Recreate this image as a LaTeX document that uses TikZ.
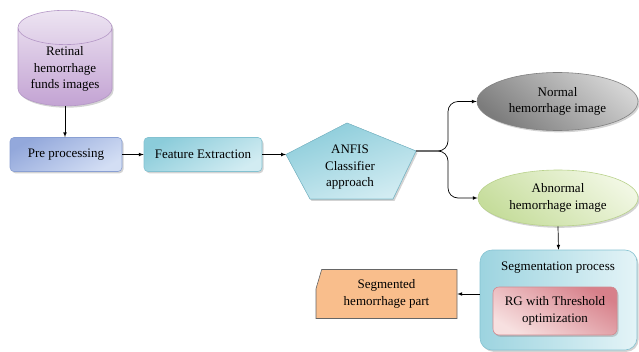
\documentclass[tikz,border=0pt]{standalone}
\usepackage{fontspec}
\setmainfont{Liberation Serif}
\usetikzlibrary{shapes.geometric,shapes.misc,shadows,positioning}

\definecolor{cylTop}{HTML}{EDE4F2}
\definecolor{cylBot}{HTML}{C3A3D3}
\definecolor{cylEdge}{HTML}{B497C6}
\definecolor{preA}{HTML}{93A8DB}
\definecolor{preB}{HTML}{D3DEF4}
\definecolor{preEdge}{HTML}{8AA0D3}
\definecolor{featA}{HTML}{8BCCDA}
\definecolor{featB}{HTML}{D2ECF2}
\definecolor{featEdge}{HTML}{84C2D1}
\definecolor{grayA}{HTML}{7C7C7C}
\definecolor{grayB}{HTML}{D4D4D4}
\definecolor{greenA}{HTML}{C6DD9C}
\definecolor{greenB}{HTML}{F1F7E3}
\definecolor{greenEdge}{HTML}{B9D28C}
\definecolor{redA}{HTML}{D7808A}
\definecolor{redB}{HTML}{F7E0E0}
\definecolor{redEdge}{HTML}{D08A90}
\definecolor{orangeFill}{HTML}{F9BE8C}

\tikzset{
  base/.style={align=center, font=\fontsize{13}{16.5}\selectfont, inner sep=2pt},
  softshadow/.style={drop shadow={shadow xshift=1.5pt, shadow yshift=-1.8pt, opacity=0.35}},
  procbox/.style={base, rectangle, rounded corners=4pt, softshadow, line width=0.6pt},
  imgellipse/.style={base, ellipse, softshadow, line width=0.6pt},
  link/.style={-latex, line width=0.7pt},
}

\begin{document}
\begin{tikzpicture}[x=1pt, y=-1pt]
\useasboundingbox (0,0) rectangle (639,351);
% input images
\node (cyl) [base, cylinder, shape border rotate=90, aspect=0.47, minimum width=94pt, minimum height=95pt,
  top color=cylTop, bottom color=cylBot, draw=cylEdge, line width=0.6pt, softshadow, anchor=north]
  at (65,10) {Retinal\\hemorrhage\\funds images};
\node (pre) [procbox, minimum width=112pt, minimum height=34pt, top color=preA, bottom color=preB,
  shading angle=30, draw=preEdge] at (66,154.5) {Pre processing};
\node (feat) [procbox, minimum width=118pt, minimum height=34pt, top color=featA, bottom color=featB,
  shading angle=30, draw=featEdge] at (203,154.5) {Feature Extraction};
% classifier pentagon
\coordinate (anfis-n) at (347,123);
\coordinate (anfis-w) at (286,154.5);
\coordinate (anfis-e) at (416,151);
\coordinate (anfis-sw) at (310,199);
\coordinate (anfis-se) at (393,199);
\coordinate (fork) at (448,151);
\filldraw [top color=featA, bottom color=featB, shading angle=20, draw=featEdge, line width=0.6pt, softshadow]
  (anfis-n) -- (anfis-e) -- (anfis-se) -- (anfis-sw) -- (anfis-w) -- cycle;
\node (anfis) [base] at (350,167.5) {ANFIS\\Classifier\\approach};
% outcomes
\node (normal) [imgellipse, minimum width=161pt, minimum height=58pt, top color=grayB, bottom color=grayA,
  shading angle=-40, draw=gray] at (557.5,101.5) {Normal\\hemorrhage image};
\node (abnormal) [imgellipse, minimum width=160pt, minimum height=56pt, top color=greenB, bottom color=greenA,
  shading angle=-40, draw=greenEdge] at (558,198) {Abnormal\\hemorrhage image};
% segmentation
\node (seg) [procbox, rounded corners=12pt, minimum width=157pt, minimum height=100pt,
  left color=featA!85, right color=featB!60!white, draw=featEdge] at (558.5,300) {};
\node (segtitle) [base] at (558,268) {Segmentation process};
\node (rg) [procbox, rounded corners=6pt, minimum width=124pt, minimum height=48pt,
  top color=redA, bottom color=redB, shading angle=-30, draw=redEdge] at (555,311)
  {RG with Threshold\\optimization};
\node (segm) [base, chamfered rectangle, chamfered rectangle corners=north west,
  chamfered rectangle angle=16.5, chamfered rectangle xsep=27pt,
  minimum width=141pt, minimum height=49pt, fill=orangeFill, draw=black!60, line width=0.6pt]
  at (386.5,294) {Segmented\\hemorrhage part};
% connectors
\draw [link] (cyl.south) -- (cyl.south |- pre.north);
\draw [link] (pre.east) -- (feat.west);
\draw [link] (feat.east) -- (anfis-w);
\draw [link, rounded corners=10pt] (anfis-e) -- (fork) |- (normal.west);
\draw [link, rounded corners=10pt] (anfis-e) -- (fork) |- (abnormal.west);
\draw [link] (abnormal.south) -- (seg.north);
\draw [link] (seg.west |- segm.east) -- (segm.east);
\end{tikzpicture}
\end{document}
